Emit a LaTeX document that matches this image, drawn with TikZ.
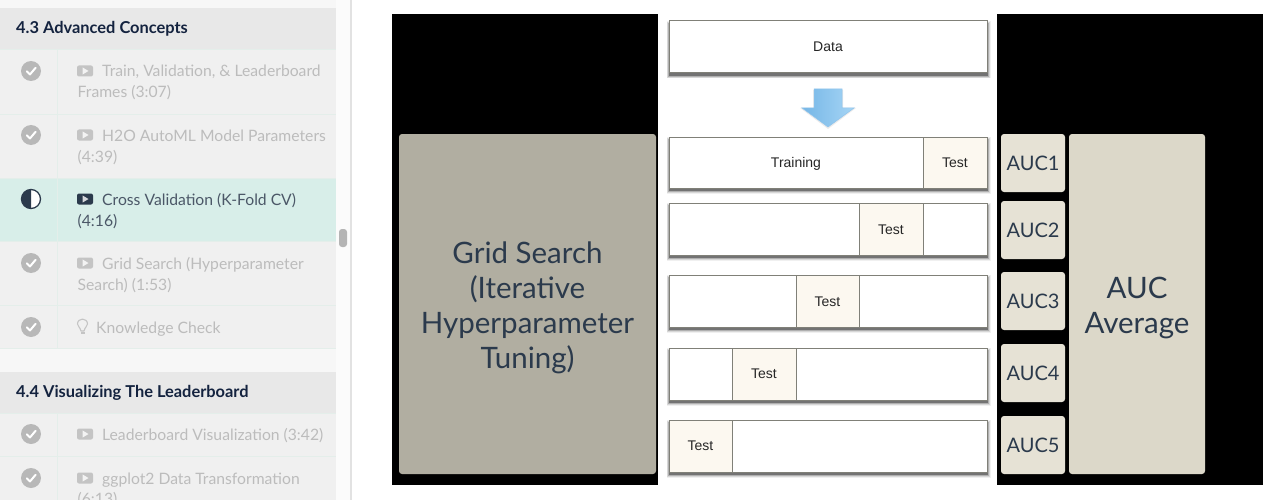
\documentclass[tikz,border=0pt]{standalone}
\usepackage{fontspec}
\setmainfont{Lato}
\newfontfamily\helv{Liberation Sans}
\usetikzlibrary{calc}
\definecolor{navy}{HTML}{14233F}
\definecolor{itemgray}{HTML}{BCBCBC}
\definecolor{itembg}{HTML}{F0F0F0}
\definecolor{headbg}{HTML}{E8E8E8}
\definecolor{tealbg}{HTML}{D8EEE9}
\definecolor{rulecol}{HTML}{E4EEEA}
\definecolor{checkgray}{HTML}{B8B8B8}
\definecolor{darktxt}{HTML}{2B3A4C}
\definecolor{gridbox}{HTML}{B1AEA1}
\definecolor{aucavg}{HTML}{DCD8C9}
\definecolor{aucbox}{HTML}{E6E2D5}
\definecolor{testbg}{HTML}{FCF8F0}
\definecolor{barline}{HTML}{808078}
\definecolor{sidebg}{HTML}{F7F7F7}
\definecolor{gutter}{HTML}{FBFBFB}
\definecolor{gutterline}{HTML}{E2E2E2}
\definecolor{thumb}{HTML}{B4B4B4}
\definecolor{icongray}{HTML}{C4C4C4}
\definecolor{arrowa}{HTML}{75B6E6}
\definecolor{arrowb}{HTML}{A6D5F5}
\definecolor{arrowline}{HTML}{90C4EC}
\tikzset{
  plain/.style={inner sep=0pt,outer sep=0pt,anchor=north west},
  itemtext/.style={inner sep=0pt,anchor=base west,text=itemgray,font=\fontsize{15.7}{18}\selectfont},
  activetext/.style={itemtext,text=darktxt!85!white},
  headtext/.style={inner sep=0pt,anchor=base west,text=navy,font=\bfseries\fontsize{16.4}{18}\selectfont},
  barbox/.style={plain,draw=barline,line width=1pt,fill=white,text=black!85,font=\helv\fontsize{14}{16}\selectfont,align=center},
  testbox/.style={barbox,fill=testbg},
  aucsmall/.style={plain,fill=aucbox,rounded corners=3pt,minimum width=64pt,minimum height=58pt},
  auclabel/.style={inner sep=0pt,text=darktxt,font=\fontsize{20}{24}\selectfont},
  bigbox/.style={plain,rounded corners=3pt},
  biglabel/.style={inner sep=0pt,yshift=-4pt,text=darktxt,align=center,font=\fontsize{29.5}{35}\selectfont},
}
\newcommand{\checkicon}[2]{%
  \fill[checkgray] (#1,#2) circle (10);
  \draw[white,line width=2pt,line cap=round,line join=round] (#1-4.2,#2+0.3) -- (#1-1,#2+3.4) -- (#1+4.6,#2-3.2);
}
\newcommand{\playicon}[3]{%
  \fill[#3,rounded corners=2pt] (#1,#2-5.5) rectangle (#1+16,#2+5.5);
  \fill[#3!20!white] (#1+5.5,#2-3.6) -- (#1+11.5,#2) -- (#1+5.5,#2+3.6) -- cycle;
}
\newcommand{\softshadow}[4]{%
  \foreach \s/\o in {3/.06,2.2/.10,1.4/.18,.6/.34}
    {\fill[black,opacity=\o] (#1+.5-\s,#2+3-\s) rectangle (#3+.5+\s,#4+2.5+\s);}
}
\newcommand{\dn}[1]{\raisebox{-1pt}[\height][\depth]{#1}}
\begin{document}
\begin{tikzpicture}[x=1pt,y=-1pt]
\useasboundingbox (0,0) rectangle (1276,500);
\fill[white] (0,0) rectangle (1276,500);
% sidebar
\fill[sidebg] (0,0) rectangle (336,500);
\fill[gutter] (336,0) rectangle (350,500);
\fill[gutterline] (350,0) rectangle (351.5,500);
\fill[itembg] (0,50) rectangle (336,348);
\fill[itembg] (0,413) rectangle (336,500);
\fill[tealbg] (0,178) rectangle (336,241.5);
\fill[headbg] (0,8) rectangle (336,49.5);
\fill[headbg] (0,372) rectangle (336,413);
\foreach \yy in {114,178,241.5,305,348,456}{\draw[rulecol,line width=.7pt] (0,\yy) -- (336,\yy);}
\draw[rulecol,line width=.7pt] (0,49.5) -- (336,49.5) (0,413) -- (336,413);
\draw[rulecol,line width=.7pt] (57.5,50) -- (57.5,348) (57.5,413) -- (57.5,500);
\fill[thumb,rounded corners=3pt] (339,229) rectangle (347,247);
\node[headtext] (h43) at (16,33.5) {4.3 Advanced Concepts};
\node[headtext] (h44) at (16,397) {4.4 Visualizing The Leaderboard};
\checkicon{31}{71}
\checkicon{31}{135}
\checkicon{31}{263}
\checkicon{31}{327}
\checkicon{31}{434}
\checkicon{31}{478}
% half circle
\fill[white] (31,199) circle (9.5);
\fill[darktxt] (31,189.5) arc (270:90:9.5) -- cycle;
\draw[darktxt,line width=1.3pt] (31,199) circle (9.5);
\playicon{77}{71}{icongray}
\playicon{77}{135}{icongray}
\playicon{77}{199}{darktxt}
\playicon{77}{263}{icongray}
\playicon{77}{434}{icongray}
\playicon{77}{478}{icongray}
% bulb
\draw[icongray,line width=1.1pt] (81,331) .. controls (80,327) and (77.5,326) .. (77.5,324) .. controls (77.5,317.5) and (87.5,317.5) .. (87.5,324) .. controls (87.5,326) and (85,327) .. (84,331) -- cycle;
\fill[icongray] (80.5,331.5) rectangle (84.5,334);
\node[itemtext] (t1) at (102,77) {Train, Validation, \& Leaderboard};
\node[itemtext] (t1b) at (77.5,98) {Frames (3:07)};
\node[itemtext] (t2) at (102,141) {H2O AutoML Model Parameters};
\node[itemtext] (t2b) at (77.5,162) {(4:39)};
\node[activetext] (t3) at (102,205) {Cross Validation (K-Fold CV)};
\node[activetext] (t3b) at (77.5,226) {(4:16)};
\node[itemtext] (t4) at (102,269) {Grid Search (Hyperparameter};
\node[itemtext] (t4b) at (77.5,290) {Search) (1:53)};
\node[itemtext] (t5) at (96,333) {Knowledge Check};
\node[itemtext] (t6) at (102,440) {Leaderboard Visualization (3:42)};
\node[itemtext] (t7) at (102,484) {ggplot2 Data Transformation};
\node[itemtext] (t7b) at (77.5,504.5) {(6:13)};
% black panels
\fill[black] (392,14) rectangle (657.5,485);
\fill[black] (997,14) rectangle (1263,485);
\node[bigbox,fill=gridbox,minimum width=257pt,minimum height=340pt] (grid) at (399,134) {};
\node[biglabel] (gridt) at (grid.center) {Grid Search\\(Iterative\\Hyperparameter\\Tuning)};
\node[bigbox,fill=aucavg,minimum width=136pt,minimum height=340pt] (avg) at (1069,134) {};
\node[biglabel] (avgt) at (avg.center) {AUC\\Average};
\node[aucsmall] (a1) at (1001,134) {};
\node[auclabel] (a1t) at (a1.center) {AUC1};
\node[aucsmall] (a2) at (1001,201) {};
\node[auclabel] (a2t) at (a2.center) {AUC2};
\node[aucsmall] (a3) at (1001,272) {};
\node[auclabel] (a3t) at (a3.center) {AUC3};
\node[aucsmall] (a4) at (1001,344) {};
\node[auclabel] (a4t) at (a4.center) {AUC4};
\node[aucsmall] (a5) at (1001,416) {};
\node[auclabel] (a5t) at (a5.center) {AUC5};
% data bar
\softshadow{669}{21}{987}{73}
\node[barbox,minimum width=318pt,minimum height=52pt] (data) at (669,21) {Data};
% arrow
\fill[black,opacity=.08] (813,90) -- (843,90) -- (843,108) -- (856,108) -- (828,129) -- (800,108) -- (813,108) -- cycle;
\shade[left color=arrowa,right color=arrowb,draw=arrowline,line width=.5pt] (814,89) -- (842,89) -- (842,108) -- (854,108) -- (828,127) -- (802,108) -- (814,108) -- cycle;
% bar 1
\softshadow{669}{137}{987}{188}
\node[barbox,minimum width=254pt,minimum height=51pt] (train) at (669,137) {\dn{Training}};
\node[testbox,minimum width=64pt,minimum height=51pt] (test1) at (923,137) {Test};
% bar 2
\softshadow{669}{203}{987}{255}
\node[barbox,minimum width=190pt,minimum height=52pt] (b2l) at (669,203) {};
\node[testbox,minimum width=64pt,minimum height=52pt] (test2) at (859,203) {\dn{Test}};
\node[barbox,minimum width=64pt,minimum height=52pt] (b2r) at (923,203) {};
% bar 3
\softshadow{669}{275}{987}{327}
\node[barbox,minimum width=127pt,minimum height=52pt] (b3l) at (669,275) {};
\node[testbox,minimum width=63pt,minimum height=52pt] (test3) at (796,275) {\dn{Test}};
\node[barbox,minimum width=128pt,minimum height=52pt] (b3r) at (859,275) {};
% bar 4
\softshadow{669}{348}{987}{400}
\node[barbox,minimum width=63pt,minimum height=52pt] (b4l) at (669,348) {};
\node[testbox,minimum width=64pt,minimum height=52pt] (test4) at (732,348) {Test};
\node[barbox,minimum width=191pt,minimum height=52pt] (b4r) at (796,348) {};
% bar 5
\softshadow{669}{420}{987}{472}
\node[testbox,minimum width=63pt,minimum height=52pt] (test5) at (669,420) {Test};
\node[barbox,minimum width=255pt,minimum height=52pt] (b5r) at (732,420) {};
\end{tikzpicture}
\end{document}
